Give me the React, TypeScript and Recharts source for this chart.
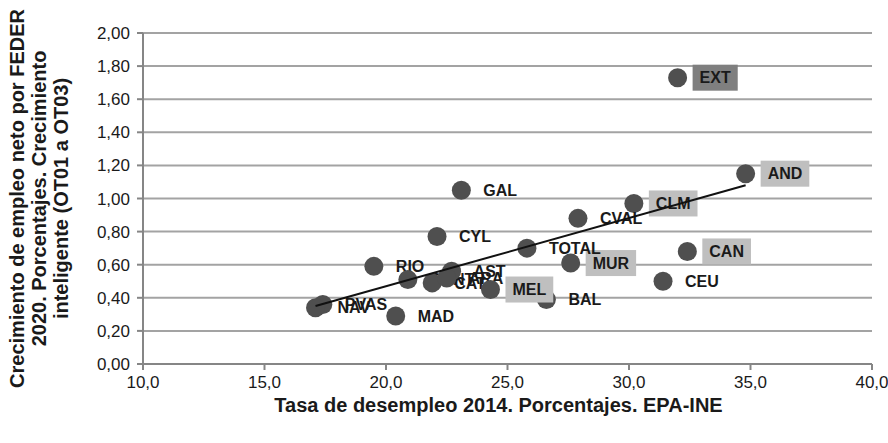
import { CartesianGrid, Scatter, ScatterChart, XAxis, YAxis } from "recharts";

const regiones = ["EXT", "AND", "CLM", "CVAL", "CAN", "MUR", "CEU", "BAL", "TOTAL", "GAL", "CYL", "RIO", "CANT", "CAT", "AST", "ARA", "MEL", "PVAS", "NAV", "MAD"];
const tasaDesempleo = [32.0, 34.8, 30.2, 27.9, 32.4, 27.6, 31.4, 26.6, 25.8, 23.1, 22.1, 19.5, 20.9, 21.9, 22.7, 22.5, 24.3, 17.4, 17.1, 20.4];
const crecimientoEmpleo = [1.73, 1.15, 0.97, 0.88, 0.68, 0.61, 0.5, 0.39, 0.7, 1.05, 0.77, 0.59, 0.51, 0.49, 0.56, 0.52, 0.45, 0.36, 0.34, 0.29];
// caja de la etiqueta: "oscuro", "claro" o "" (sin caja)
const cajaEtiqueta = ["oscuro", "claro", "claro", "", "claro", "claro", "", "", "", "", "", "", "", "", "", "", "claro", "", "", ""];

// línea de tendencia (extremos)
const tendenciaX = [17.1, 34.8];
const tendenciaY = [0.35, 1.08];

const ticksX = [10, 15, 20, 25, 30, 35, 40];
const ticksY = [0, 0.2, 0.4, 0.6, 0.8, 1.0, 1.2, 1.4, 1.6, 1.8, 2.0];

const tituloX = "Tasa de desempleo 2014. Porcentajes. EPA-INE";
const tituloY = ["Crecimiento de empleo neto por FEDER", "2020. Porcentajes. Crecimiento", "inteligente (OT01 a OT03)"];

const datos = regiones.map((region, i) => ({
  region,
  x: tasaDesempleo[i],
  y: crecimientoEmpleo[i],
  caja: cajaEtiqueta[i],
}));
const tendencia = tendenciaX.map((x, i) => ({ x, y: tendenciaY[i] }));

const FUENTE = '"Liberation Sans", Arial, sans-serif';
const GRIS_EJE = "#868686";

let ctxMedida: CanvasRenderingContext2D | null = null;
function anchoTexto(texto: string) {
  if (!ctxMedida) ctxMedida = document.createElement("canvas").getContext("2d");
  if (!ctxMedida) return texto.length * 11;
  ctxMedida.font = `bold 16px ${FUENTE}`;
  return ctxMedida.measureText(texto).width;
}

function Punto(props: any) {
  const { cx, cy, payload } = props;
  const ancho = anchoTexto(payload.region);
  return (
    <g>
      <circle cx={cx} cy={cy} r={9.5} fill="#4f4f4f" />
      {payload.caja && (
        <rect
          x={cx + 15}
          y={cy - 13}
          width={ancho + 14}
          height={26}
          fill={payload.caja === "oscuro" ? "#7f7f7f" : "#bfbfbf"}
        />
      )}
      <text x={cx + 22} y={cy} dy="0.36em" fontFamily={FUENTE} fontWeight="bold" fontSize={16} fill="#1a1a1a">
        {payload.region}
      </text>
    </g>
  );
}

function EtiquetaY(props: any) {
  const vb = props.viewBox || { x: 0, y: 33, width: 143, height: 331 };
  const centroY = vb.y + vb.height / 2;
  const columnas = [17, 39, 61];
  return (
    <g>
      {tituloY.map((linea, i) => (
        <text
          key={linea}
          x={columnas[i]}
          y={centroY}
          transform={`rotate(-90, ${columnas[i]}, ${centroY})`}
          textAnchor="middle"
          dy="0.36em"
          fontFamily={FUENTE}
          fontWeight="bold"
          fontSize={20}
          fill="#1a1a1a"
        >
          {linea}
        </text>
      ))}
    </g>
  );
}

const formatoX = (v: number) => v.toFixed(1).replace(".", ",");
const formatoY = (v: number) => v.toFixed(2).replace(".", ",");

export default function App() {
  return (
    <div style={{ position: "absolute", left: 0, top: 0, width: 888, height: 443, background: "#ffffff" }}>
      <ScatterChart width={888} height={443} margin={{ top: 33, right: 16, bottom: 0, left: 0 }}>
        <CartesianGrid vertical={false} stroke="#a3a3a3" strokeWidth={2} />
        <XAxis
          type="number"
          dataKey="x"
          domain={[10, 40]}
          ticks={ticksX}
          tickFormatter={formatoX}
          height={79}
          tickSize={6}
          tickMargin={6}
          stroke={GRIS_EJE}
          strokeWidth={2}
          tick={{ fill: "#1a1a1a", fontSize: 17, fontFamily: FUENTE }}
          label={{
            value: tituloX,
            position: "insideBottom",
            offset: 31,
            dx: -9,
            style: { fontFamily: FUENTE, fontWeight: "bold", fontSize: 20, fill: "#1a1a1a" },
          }}
        />
        <YAxis
          type="number"
          dataKey="y"
          domain={[0, 2]}
          ticks={ticksY}
          tickFormatter={formatoY}
          width={143}
          tickSize={6}
          tickMargin={7}
          stroke={GRIS_EJE}
          strokeWidth={2}
          tick={{ fill: "#1a1a1a", fontSize: 17, fontFamily: FUENTE }}
          label={{ content: (p: any) => <EtiquetaY {...p} /> }}
        />
        <Scatter data={datos} shape={(p: any) => <Punto {...p} />} isAnimationActive={false} />
        <Scatter
          data={tendencia}
          line={{ stroke: "#111111", strokeWidth: 2 }}
          shape={() => <g />}
          isAnimationActive={false}
        />
      </ScatterChart>
    </div>
  );
}
